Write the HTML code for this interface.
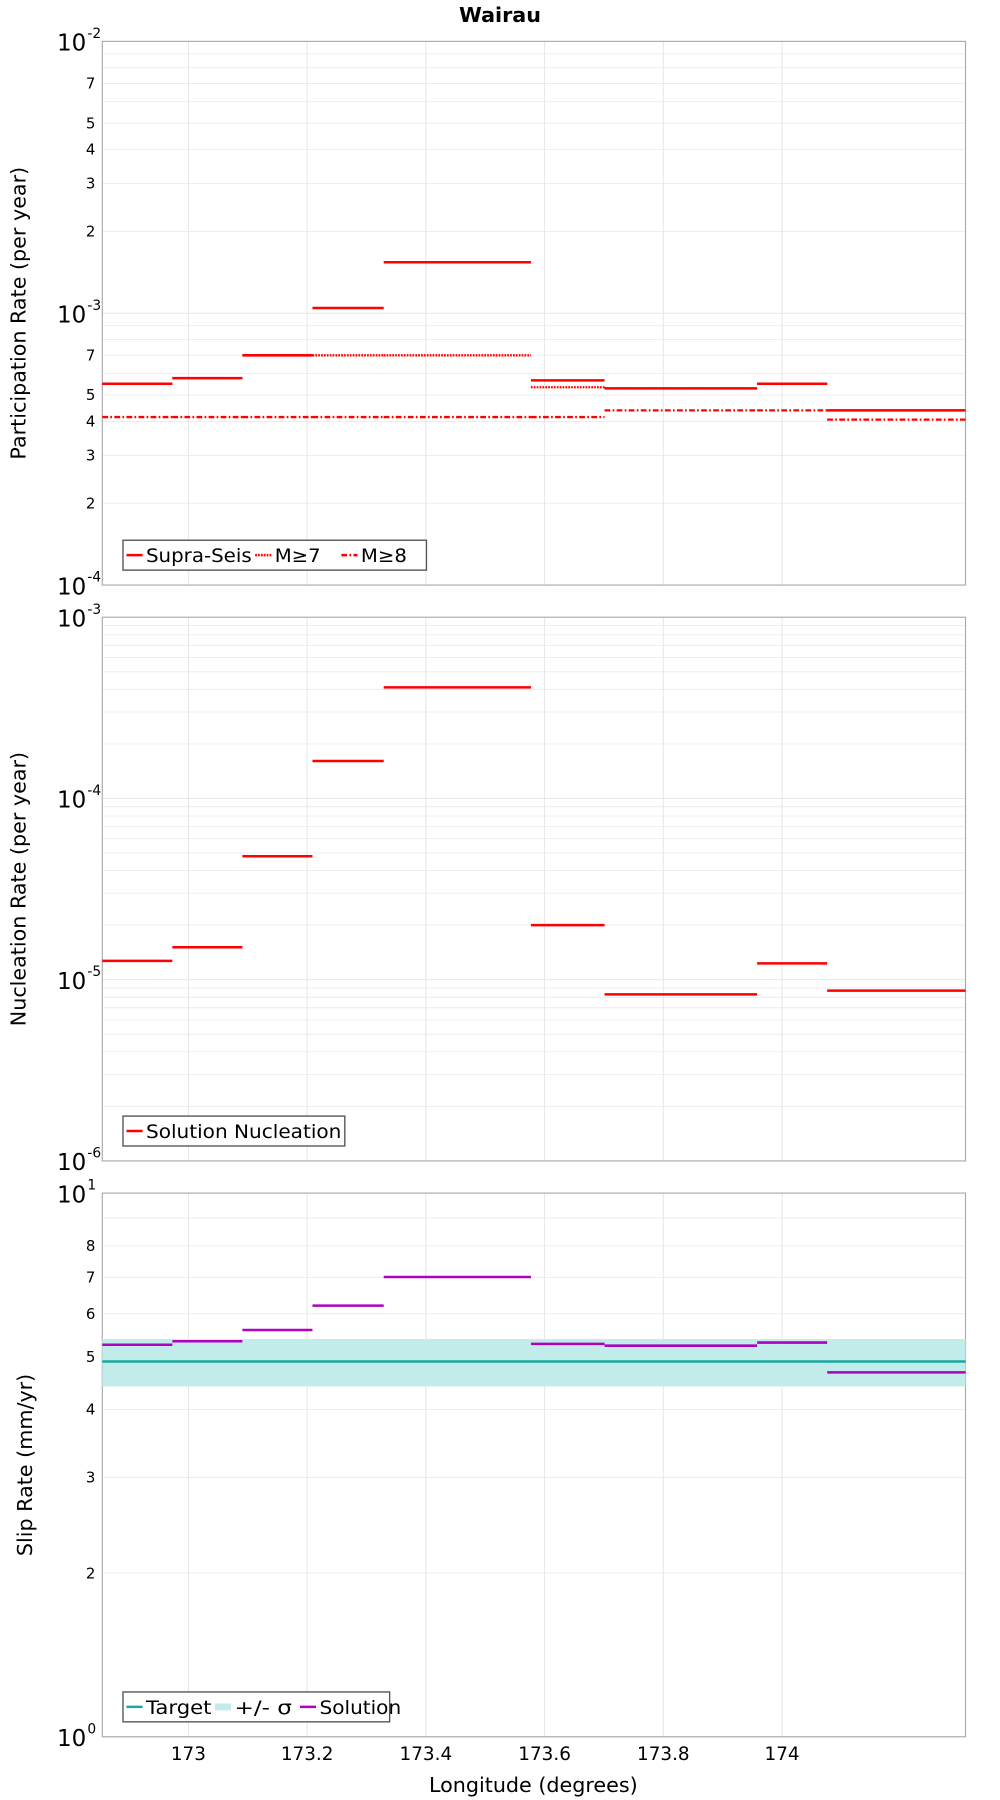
<!DOCTYPE html>
<html><head><meta charset="utf-8"><style>
html,body{margin:0;padding:0;background:#fff;}
svg{display:block;font-family:"DejaVu Sans","Liberation Sans",sans-serif;}
</style></head><body>
<svg id="chart" xmlns="http://www.w3.org/2000/svg" width="1000" height="1800" viewBox="0 0 870 1566">
<text x="435" y="19" text-anchor="middle" font-size="18" font-weight="bold">Wairau</text>
<g id="root"></g>
</svg>
<script>
// Segment boundaries (longitude)
const segStart = [172.855,172.973,173.091,173.209,173.329,173.577,173.701,173.958,174.076];
const segEnd   = [172.973,173.091,173.209,173.329,173.577,173.701,173.958,174.076,174.309];
const xTicks = [173,173.2,173.4,173.6,173.8,174];
const xTickLabels = ["173","173.2","173.4","173.6","173.8","174"];
// Panel 1 participation
const supraSeis = [5.5e-4,5.77e-4,7.0e-4,1.045e-3,1.54e-3,5.66e-4,5.29e-4,5.5e-4,4.39e-4];
const m7 = [5.5e-4,5.77e-4,7.0e-4,7.0e-4,7.0e-4,5.34e-4,5.29e-4,5.5e-4,4.39e-4];
const m8 = [4.15e-4,4.15e-4,4.15e-4,4.15e-4,4.15e-4,4.15e-4,4.39e-4,4.39e-4,4.06e-4];
// Panel 2 nucleation
const nucleation = [1.27e-5,1.51e-5,4.8e-5,1.61e-4,4.1e-4,2.0e-5,8.3e-6,1.23e-5,8.7e-6];
// Panel 3 slip
const targetSlip = 4.9;
const sigmaLow = 4.41, sigmaHigh = 5.39;
const solutionSlip = [5.26,5.34,5.6,6.21,7.01,5.28,5.24,5.31,4.68];

const NS="http://www.w3.org/2000/svg";
const root=document.getElementById('root');
function el(tag,attrs,parent){const e=document.createElementNS(NS,tag);for(const k in attrs)e.setAttribute(k,attrs[k]);(parent||root).appendChild(e);return e;}
const L=89,R=840;
const xMin=172.855,xMax=174.309;
function X(v){return L+(v-xMin)/(xMax-xMin)*(R-L);}
function makeY(top,bot,lmin,lmax){return v=>bot-(Math.log10(v)-lmin)/(lmax-lmin)*(bot-top);}

function panel(name,top,bot,lmin,lmax,minorLabels,ytitle,tx){
  const g=el('g',{});
  
  
  const Y=makeY(top,bot,lmin,lmax);
  for(let d=lmin;d<lmax;d++){for(let m=1;m<10;m++){const v=m*Math.pow(10,d);const y=Y(v);
    const ln=el('line',{x1:L,x2:R,y1:y,y2:y,stroke:m==1?'#e4e4e4':'#ececec','stroke-width':0.8},g);
    
    if(m>1&&minorLabels.indexOf(m)>=0){const t=el('text',{x:83,y:y+4.5,'text-anchor':'end','font-size':13},g);t.textContent=m;
      }
  }}
  xTicks.forEach(v=>{const ln=el('line',{x1:X(v),x2:X(v),y1:top,y2:bot,stroke:'#e4e4e4','stroke-width':0.8},g);
    });
  for(let d=lmin;d<=lmax;d++){const y=Y(Math.pow(10,d));
    const t=el('text',{x:75,y:y+8,'text-anchor':'end','font-size':20},g);t.textContent='10';
    
    const s=el('text',{x:76,y:y-3,'font-size':12},g);s.textContent=String(d);
    }
  const fr=el('rect',{x:L,y:top,width:R-L,height:bot-top,fill:'none',stroke:'#aaa','stroke-width':1},g);
  
  const cy=(top+bot)/2;
  const yt=el('text',{x:0,y:0,'font-size':18,'text-anchor':'middle',transform:`translate(${tx},${cy}) rotate(-90)`},g);
  yt.textContent=ytitle;
  return {g,Y};
}
function steps(g,Y,vals,color,dash,name,w){
  vals.forEach((v,i)=>{const y=Y(v);
    const a={x1:X(segStart[i]),x2:X(segEnd[i]),y1:y,y2:y,stroke:color,'stroke-width':w||2.2};
    if(dash)a['stroke-dasharray']=dash;
    const ln=el('line',a,g);});
}
function legend(g,x,y,w,items){
  const r=el('rect',{x:x,y:y,width:w,height:26,fill:'#fff',stroke:'#555','stroke-width':1.2},g);
  
  let cx=x+3;
  items.forEach(it=>{
    if(it.band){const b=el('rect',{x:cx,y:y+10,width:14,height:6,fill:'#c2ecea'},g);}
    else{const a={x1:cx,x2:cx+14,y1:y+13,y2:y+13,stroke:it.color,'stroke-width':2.2};if(it.dash)a['stroke-dasharray']=it.dash;
      const ln=el('line',a,g);}
    const t=el('text',{x:cx+17,y:y+19,'font-size':16,textLength:it.tw,lengthAdjust:'spacingAndGlyphs'},g);t.textContent=it.label;
    
    cx+=17+it.w;
  });
}
// Panel 1
let p=panel('participation-panel',36,509,-4,-2,[2,3,4,5,7],'Participation Rate (per year)',22);
steps(p.g,p.Y,m8,'#f00','5,2,1.5,2','m8-step',2);
steps(p.g,p.Y,m7,'#f00','1.5,1','m7-step',2);
steps(p.g,p.Y,supraSeis,'#f00',null,'supra-seis-step',2.2);
legend(p.g,107,470,264,[{label:'Supra-Seis',color:'#f00',w:95,tw:92},{label:'M≥7',color:'#f00',dash:'1.5,1',w:58,tw:40},{label:'M≥8',color:'#f00',dash:'5,2,1.5,2',w:40,tw:40}]);
// Panel 2
p=panel('nucleation-panel',537,1010,-6,-3,[],'Nucleation Rate (per year)',22);
steps(p.g,p.Y,nucleation,'#f00',null,'nucleation-step',2.2);
legend(p.g,107,971,193,[{label:'Solution Nucleation',color:'#f00',w:170,tw:170}]);
// Panel 3
p=panel('slip-rate-panel',1038,1511,0,1,[2,3,4,5,6,7,8],'Slip Rate (mm/yr)',28);
const band=el('rect',{x:L,y:p.Y(sigmaHigh),width:R-L,height:p.Y(sigmaLow)-p.Y(sigmaHigh),fill:'#c2ecea'},p.g);

const tl=el('line',{x1:L,x2:R,y1:p.Y(targetSlip),y2:p.Y(targetSlip),stroke:'#1aa8a0','stroke-width':2.2},p.g);

steps(p.g,p.Y,solutionSlip,'#b000c0',null,'solution-slip-step',2.2);
legend(p.g,107,1472,232,[{label:'Target',color:'#1aa8a0',w:60,tw:57},{label:'+/- σ',band:true,w:57,tw:50},{label:'Solution',w:70,color:'#b000c0',tw:71}]);
// x ticks
xTicks.forEach((v,i)=>{const t=el('text',{x:X(v),y:1531,'text-anchor':'middle','font-size':16});t.textContent=xTickLabels[i];
  });
const xt=el('text',{x:464,y:1559,'text-anchor':'middle','font-size':18});xt.textContent='Longitude (degrees)';

</script>
</body></html>
